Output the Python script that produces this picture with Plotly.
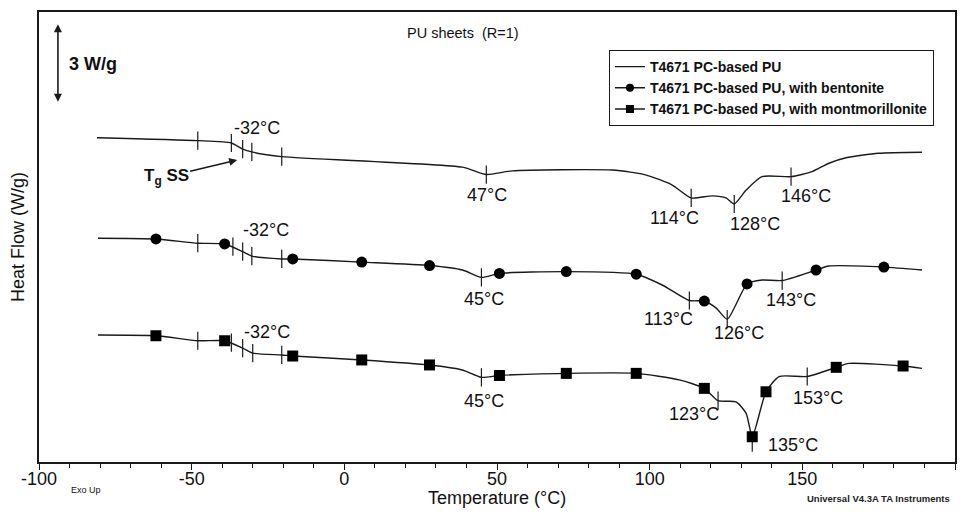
import plotly.graph_objects as go

# ---------------- data ----------------
# Curve 1: T4671 PC-based PU
pu_T = [-81, -48, -37, -33.3, -30.3, -20.5, 38.7, 46.5, 55, 87.8, 98.9, 107.4,
        113.6, 120.5, 125, 127.7, 131.6, 136.8, 146.3, 153.2, 158.7, 164.3, 175, 189.2]
pu_hf = [12.29, 12.18, 12.09, 11.86, 11.75, 11.57, 11.17, 10.89, 11.03, 11.06, 10.87, 10.49,
         10.00, 10.08, 10.00, 9.77, 10.30, 10.81, 10.81, 11.00, 11.32, 11.53, 11.70, 11.74]
pu_tick_T = [-48, -37, -33.3, -30.3, -20.5, 46.5, 113.6, 127.7, 146.3]
pu_tick_hf = [12.18, 12.09, 11.86, 11.75, 11.57, 10.89, 10.00, 9.77, 10.81]

# Curve 2: with bentonite
bent_T = [-80.7, -61.7, -48, -39.2, -33.3, -30.3, -20.5, -16.9, 5.7, 27.9, 38.7, 44.9,
          50.8, 72.7, 95.6, 104.1, 113, 117.9, 121.8, 125.4, 131.9, 136.8, 143.4,
          154.5, 158.7, 176.7, 189.2]
bent_hf = [8.47, 8.44, 8.28, 8.25, 7.96, 7.79, 7.68, 7.68, 7.56, 7.43, 7.26, 6.98,
           7.13, 7.20, 7.10, 6.69, 6.10, 6.08, 5.81, 5.39, 6.73, 6.88, 6.86,
           7.26, 7.41, 7.37, 7.26]
bent_mark_T = [-61.7, -39.2, -16.9, 5.7, 27.9, 50.8, 72.7, 95.6, 117.9, 131.9, 154.5, 176.7]
bent_mark_hf = [8.44, 8.25, 7.68, 7.56, 7.43, 7.13, 7.20, 7.10, 6.08, 6.73, 7.26, 7.37]
bent_tick_T = [-48, -36.5, -33.3, -30.3, -20.5, 44.9, 113, 125.4, 143.4]
bent_tick_hf = [8.28, 8.15, 7.96, 7.79, 7.68, 6.98, 6.10, 5.39, 6.86]

# Curve 3: with montmorillonite
mont_T = [-80.7, -61.7, -48, -39.2, -33.3, -30, -20.5, -16.9, 5.7, 27.9, 38.7, 44.9,
          50.8, 72.7, 95.6, 109.7, 117.9, 122.4, 128.3, 131.6, 133.6, 138.1, 142.4,
          151.6, 161.1, 165.3, 183, 189.2]
mont_hf = [4.79, 4.76, 4.57, 4.57, 4.29, 4.10, 4.03, 3.99, 3.84, 3.65, 3.46, 3.18,
           3.25, 3.33, 3.33, 3.08, 2.76, 2.29, 2.25, 1.81, 0.92, 2.63, 3.21,
           3.21, 3.56, 3.71, 3.61, 3.52]
mont_mark_T = [-61.7, -39.2, -16.9, 5.7, 27.9, 50.8, 72.7, 95.6, 117.9, 133.6, 138.1, 161.1, 183]
mont_mark_hf = [4.76, 4.57, 3.99, 3.84, 3.65, 3.25, 3.33, 3.33, 2.76, 0.92, 2.63, 3.56, 3.61]
mont_tick_T = [-48, -37, -33.3, -30, -20.5, 44.9, 122.4, 133.6, 151.6]
mont_tick_hf = [4.57, 4.50, 4.29, 4.10, 4.03, 3.18, 2.29, 0.70, 3.21]

series_names = ["T4671 PC-based PU",
                "T4671 PC-based PU, with bentonite",
                "T4671 PC-based PU, with montmorillonite"]

x_ticks = [-100, -50, 0, 50, 100, 150, 200]
x_tick_text = ["-100", "-50", "0", "50", "100", "150", "200"]

# temperature labels: (text, T, heat-flow position)
labels = [("-32°C", -28.6, 12.66), ("47°C", 46.7, 10.11), ("114°C", 108.0, 9.24),
          ("128°C", 134.5, 9.01), ("146°C", 151.2, 10.08),
          ("-32°C", -25.6, 8.78), ("45°C", 45.6, 6.16), ("113°C", 106.2, 5.40),
          ("126°C", 129.1, 4.87), ("143°C", 146.3, 6.12),
          ("-32°C", -25.3, 4.90), ("45°C", 45.6, 2.28), ("123°C", 114.5, 1.79),
          ("135°C", 146.8, 0.61), ("153°C", 155.2, 2.40)]

scale_W = 3  # W/g scale bar
scale_bottom = 13.6

# ---------------- figure ----------------
LC = "#1a1a1a"
FONT = "Liberation Sans, Arial, sans-serif"

fig = go.Figure()

def curve(T, hf):
    fig.add_trace(go.Scatter(x=T, y=hf, mode="lines", showlegend=False,
                             line=dict(color=LC, width=1.4, shape="spline", smoothing=0.6),
                             hoverinfo="skip"))

def ticks(T, hf):
    fig.add_trace(go.Scatter(x=T, y=hf, mode="markers", showlegend=False,
                             marker=dict(symbol="line-ns", size=13,
                                         line=dict(color=LC, width=1.2)),
                             hoverinfo="skip"))

curve(pu_T, pu_hf)
ticks(pu_tick_T, pu_tick_hf)
curve(bent_T, bent_hf)
ticks(bent_tick_T, bent_tick_hf)
fig.add_trace(go.Scatter(x=bent_mark_T, y=bent_mark_hf, mode="markers", showlegend=False,
                         marker=dict(symbol="circle", size=11, color="black")))
curve(mont_T, mont_hf)
ticks(mont_tick_T, mont_tick_hf)
fig.add_trace(go.Scatter(x=mont_mark_T, y=mont_mark_hf, mode="markers", showlegend=False,
                         marker=dict(symbol="square", size=11, color="black")))

# legend entries
fig.add_trace(go.Scatter(x=[None], y=[None], mode="lines", name=series_names[0],
                         line=dict(color=LC, width=1.4)))
fig.add_trace(go.Scatter(x=[None], y=[None], mode="lines+markers", name=series_names[1],
                         line=dict(color=LC, width=1.4),
                         marker=dict(symbol="circle", size=8, color="black")))
fig.add_trace(go.Scatter(x=[None], y=[None], mode="lines+markers", name=series_names[2],
                         line=dict(color=LC, width=1.4),
                         marker=dict(symbol="square", size=8, color="black")))

annotations = []
for txt, t, h in labels:
    annotations.append(dict(x=t, y=h, xref="x", yref="y", text=txt, showarrow=False,
                            font=dict(size=18, color="#111", family=FONT)))

# Tg SS arrow
annotations.append(dict(x=-35.1, y=11.44, xref="x", yref="y",
                        text="<b>T<sub>g</sub> SS</b>", showarrow=True,
                        ax=-71, ay=17, arrowhead=2, arrowsize=1, arrowwidth=1.6,
                        arrowcolor=LC, font=dict(size=17, color="#111", family=FONT)))
# scale bar
annotations.append(dict(x=-93.8, y=scale_bottom + scale_W, xref="x", yref="y",
                        ax=-93.8, ay=scale_bottom, axref="x", ayref="y",
                        text="", showarrow=True, arrowhead=2, arrowside="end+start",
                        arrowsize=1, arrowwidth=1.6, arrowcolor=LC))
annotations.append(dict(x=-82.4, y=15.1, xref="x", yref="y", text="<b>3 W/g</b>",
                        showarrow=False, font=dict(size=18, color="#111", family=FONT)))
# title
annotations.append(dict(x=0.463, y=0.953, xref="paper", yref="paper",
                        xanchor="center", yanchor="middle",
                        text="PU sheets  (R=1)", showarrow=False,
                        font=dict(size=14.5, color="#111", family=FONT)))
# x-axis title
annotations.append(dict(x=0.4995, y=-0.081, xref="paper", yref="paper",
                        xanchor="center", yanchor="middle",
                        text="Temperature (°C)", showarrow=False,
                        font=dict(size=18, color="#111", family=FONT)))
annotations.append(dict(x=0.051, y=-0.062, xref="paper", yref="paper", text="Exo Up",
                        xanchor="center", yanchor="middle",
                        showarrow=False, font=dict(size=9, color="#111", family=FONT)))
annotations.append(dict(x=0.917, y=-0.08, xref="paper", yref="paper",
                        xanchor="center", yanchor="middle",
                        text="<b>Universal V4.3A TA Instruments</b>",
                        showarrow=False, font=dict(size=9.5, color="#222", family=FONT)))

# page body has an 8 px margin, so the figure is sized/placed to compensate
fig.update_layout(
    width=955, height=505,
    margin=dict(l=31, r=8, t=4, b=51),
    paper_bgcolor="white", plot_bgcolor="white",
    font=dict(family=FONT, color="#111"),
    showlegend=True,
    legend=dict(x=0.622, y=0.916, xanchor="left", yanchor="top",
                bgcolor="white", bordercolor=LC, borderwidth=1.2,
                font=dict(size=14, family=FONT, color="#111", weight="bold"),
                tracegroupgap=0, itemwidth=30),
    annotations=annotations,
)
fig.update_xaxes(range=[-100, 200], tickvals=x_ticks, ticktext=x_tick_text,
                 ticks="outside", ticklen=6, automargin=False, ticklabelstandoff=-7,
                 tickwidth=1.2, tickcolor=LC,
                 minor=dict(dtick=10, ticks="outside", ticklen=4, tickcolor=LC, tickwidth=1),
                 showline=True, linecolor=LC, linewidth=1.8, mirror=True,
                 showgrid=False, zeroline=False,
                 tickfont=dict(size=18, family=FONT))
fig.update_yaxes(range=[-0.04, 17.07], showticklabels=False, ticks="", automargin=False,
                 showline=True, linecolor=LC, linewidth=1.8, mirror=True,
                 showgrid=False, zeroline=False,
                 title=dict(text="Heat Flow (W/g)", font=dict(size=18, family=FONT), standoff=8))

fig.write_html("out.html")
